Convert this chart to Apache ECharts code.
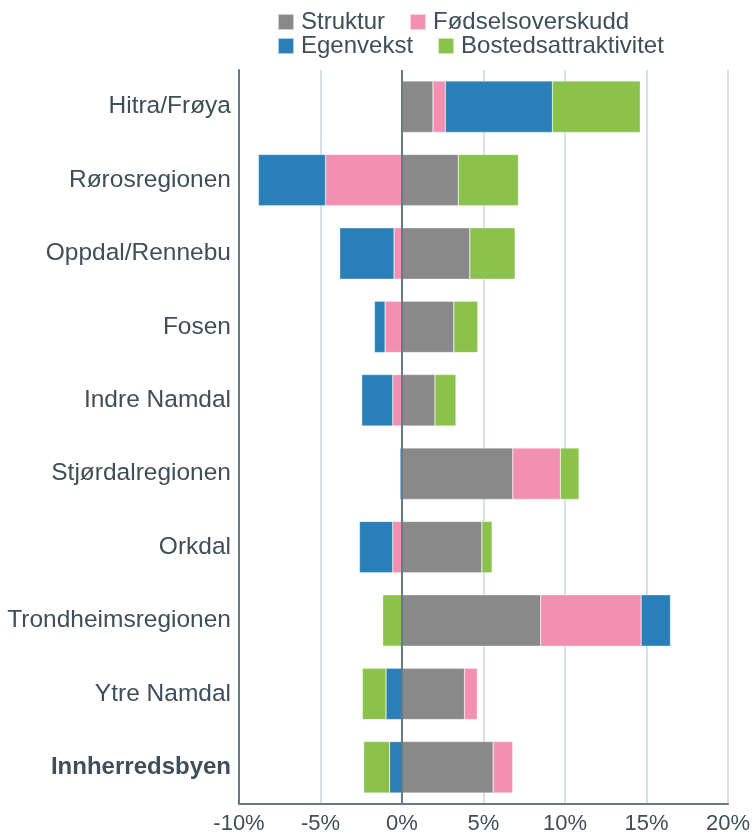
<!DOCTYPE html>
<html>
<head>
<meta charset="utf-8">
<script src="https://cdn.jsdelivr.net/npm/echarts@6/dist/echarts.min.js"></script>
<style>
html,body{margin:0;padding:0;background:#fff;}
#chart{width:755px;height:836px;}
</style>
</head>
<body>
<div id="chart"></div>
<script>
var categories = ['Hitra/Frøya','Rørosregionen','Oppdal/Rennebu','Fosen','Indre Namdal','Stjørdalregionen','Orkdal','Trondheimsregionen','Ytre Namdal','Innherredsbyen'];
var struktur = [1.9, 3.45, 4.16, 3.18, 2.02, 6.8, 4.9, 8.51, 3.84, 5.59];
var fodselsoverskudd = [0.76, -4.69, -0.49, -1.04, -0.57, 2.92, -0.57, 6.16, 0.78, 1.2];
var egenvekst = [6.57, -4.12, -3.33, -0.65, -1.9, -0.12, -2.04, 1.8, -0.98, -0.76];
var bostedsattraktivitet = [5.39, 3.69, 2.78, 1.47, 1.29, 1.14, 0.63, -1.18, -1.45, -1.59];
var seriesNames = ['Struktur','Fødselsoverskudd','Egenvekst','Bostedsattraktivitet'];
var xTicks = {min: -10, max: 20, interval: 5};

var textColor = '#3f4e59';
var axisColor = '#677b87';
var font = 'Liberation Sans, Arial, sans-serif';
var colors = ['#898989','#f390b2','#2a7fb8','#8bc24b'];
var dataSets = [struktur, fodselsoverskudd, egenvekst, bostedsattraktivitet];

var series = seriesNames.map(function(name, i){
  var s = {
    name: name,
    type: 'bar',
    stack: 'total',
    barWidth: '70%',
    data: dataSets[i],
    itemStyle: {color: colors[i], borderColor: 'rgba(255,255,255,0.6)', borderWidth: 0.5},
    emphasis: {disabled: true}
  };
  if (i === 0) {
    s.markLine = {
      silent: true,
      symbol: ['none','none'],
      label: {show: false},
      lineStyle: {color: axisColor, width: 2, type: 'solid'},
      data: [{xAxis: 0}]
    };
  }
  return s;
});

var legendCommon = {
  left: 277,
  padding: 0,
  orient: 'horizontal',
  itemWidth: 16,
  itemHeight: 16,
  itemGap: 24,
  icon: 'rect',
  textStyle: {fontSize: 24, color: textColor, fontFamily: font, padding: [0,0,0,2]}
};

var chart = echarts.init(document.getElementById('chart'), null, {renderer: 'canvas'});
chart.setOption({
  animation: false,
  color: colors,
  legend: [
    Object.assign({}, legendCommon, {top: 10, data: [seriesNames[0], seriesNames[1]]}),
    Object.assign({}, legendCommon, {top: 34, data: [seriesNames[2], seriesNames[3]]})
  ],
  grid: {left: 239, right: 27, top: 70, bottom: 32, containLabel: false},
  xAxis: {
    type: 'value',
    min: xTicks.min, max: xTicks.max, interval: xTicks.interval,
    axisLine: {show: true, onZero: false, lineStyle: {color: axisColor, width: 2}},
    axisTick: {show: false},
    splitLine: {show: true, lineStyle: {color: '#cdd6dc', width: 1.5}},
    axisLabel: {formatter: '{value}%', fontSize: 22, color: textColor, fontFamily: font, margin: 9}
  },
  yAxis: {
    type: 'category',
    inverse: true,
    data: categories,
    axisLine: {show: true, onZero: false, lineStyle: {color: axisColor, width: 2}},
    axisTick: {show: false},
    axisLabel: {
      fontSize: 24.5, color: textColor, fontFamily: font, margin: 8,
      formatter: function(v){ return v === 'Innherredsbyen' ? '{b|' + v + '}' : v; },
      rich: {b: {fontWeight: 'bold', fontSize: 24, color: textColor, fontFamily: font}}
    }
  },
  series: series
});
</script>
</body>
</html>
